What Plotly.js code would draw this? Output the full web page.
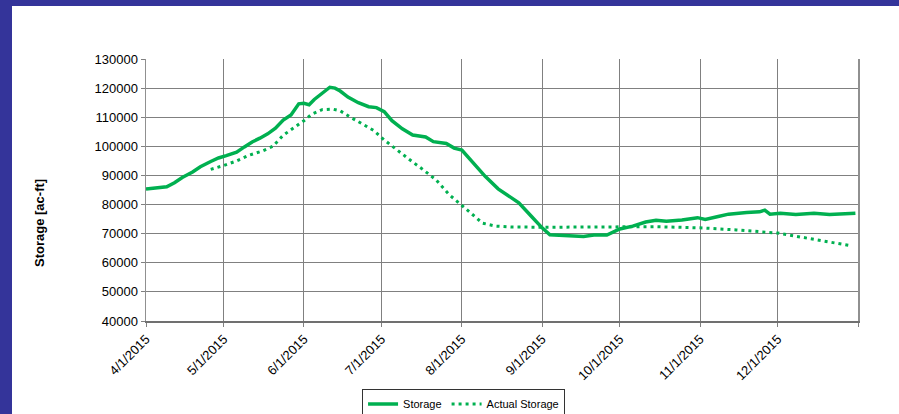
<!DOCTYPE html>
<html>
<head>
<meta charset="utf-8">
<script src="https://cdn.plot.ly/plotly-3.0.1.min.js"></script>
<style>
  html, body { margin: 0; padding: 0; background: #ffffff; }
  #frame { width: 887px; height: 408px; border-top: 6px solid #34349a; border-left: 12px solid #34349a; background: #fff; }
  #chart { width: 887px; height: 408px; }
</style>
</head>
<body>
<div id="frame"><div id="chart"></div></div>
<script>
// Storage (modelled) series
const storageDates = [
  '2015-04-01','2015-04-05','2015-04-09','2015-04-12','2015-04-15','2015-04-19','2015-04-22','2015-04-26','2015-04-29',
  '2015-05-02','2015-05-06','2015-05-09','2015-05-12','2015-05-15','2015-05-18','2015-05-21','2015-05-24','2015-05-27','2015-05-30',
  '2015-06-01','2015-06-03','2015-06-05','2015-06-08','2015-06-11','2015-06-13','2015-06-15','2015-06-18','2015-06-22','2015-06-26','2015-06-29',
  '2015-07-02','2015-07-05','2015-07-09','2015-07-13','2015-07-18','2015-07-21','2015-07-26','2015-07-29',
  '2015-08-01','2015-08-05','2015-08-10','2015-08-15','2015-08-19','2015-08-23','2015-08-28',
  '2015-09-01','2015-09-04','2015-09-11','2015-09-17','2015-09-21','2015-09-26',
  '2015-10-01','2015-10-06','2015-10-11','2015-10-15','2015-10-19','2015-10-25','2015-10-31',
  '2015-11-03','2015-11-08','2015-11-12','2015-11-19','2015-11-24','2015-11-26','2015-11-28',
  '2015-12-02','2015-12-08','2015-12-15','2015-12-21','2015-12-27','2015-12-31'
];
const storageValues = [
  85300,85700,86100,87500,89300,91200,93000,94800,96000,
  96800,98000,99800,101500,102800,104300,106200,109000,110800,114600,
  114800,114300,116100,118200,120300,120000,119000,116900,115000,113600,113300,
  111900,108800,106000,103900,103200,101600,101000,99400,
  98700,94500,89700,85400,82900,80600,75800,
  72000,69600,69300,69000,69500,69500,
  71600,72600,74000,74600,74300,74700,75500,
  74900,75900,76700,77300,77500,78100,76700,
  77000,76600,77000,76600,76800,77000
];

// Actual storage series
const actualDates = [
  '2015-04-26','2015-05-01','2015-05-06','2015-05-11','2015-05-16','2015-05-20','2015-05-24','2015-05-28',
  '2015-06-01','2015-06-04','2015-06-08','2015-06-12','2015-06-15','2015-06-19','2015-06-23','2015-06-28',
  '2015-07-02','2015-07-07','2015-07-12','2015-07-17','2015-07-22','2015-07-27',
  '2015-08-01','2015-08-05','2015-08-09','2015-08-14','2015-08-20',
  '2015-09-01','2015-10-01','2015-10-15','2015-11-01','2015-11-15',
  '2015-12-01','2015-12-10','2015-12-20','2015-12-29'
];
const actualValues = [
  92100,93400,95000,97000,98400,100000,103800,106200,
  108800,111000,112600,112800,112200,110000,108000,105400,
  102200,98600,95300,92000,88500,83500,
  79600,76800,73600,72600,72300,
  72200,72300,72400,72000,71300,
  70200,68800,67200,65900
];

// Axis tick labels
const xTickVals = ['2015-04-01','2015-05-01','2015-06-01','2015-07-01','2015-08-01','2015-09-01','2015-10-01','2015-11-01','2015-12-01','2016-01-01'];
const xTickText = ['4/1/2015','5/1/2015','6/1/2015','7/1/2015','8/1/2015','9/1/2015','10/1/2015','11/1/2015','12/1/2015',''];
const seriesNames = ['Storage','Actual Storage'];
const yTitle = 'Storage [ac-ft]';

const green = '#00b050';
const font = 'Liberation Sans, Arial, sans-serif';

const traces = [
  {
    x: storageDates, y: storageValues, name: seriesNames[0], type: 'scatter', mode: 'lines',
    line: { color: green, width: 3.5 }
  },
  {
    x: actualDates, y: actualValues, name: seriesNames[1], type: 'scatter', mode: 'lines',
    line: { color: green, width: 3, dash: '3px,4px' }
  }
];

const layout = {
  width: 887, height: 408,
  margin: { l: 134, r: 41, t: 53, b: 93, autoexpand: false },
  paper_bgcolor: '#ffffff', plot_bgcolor: '#ffffff',
  font: { family: font, size: 13, color: '#000' },
  showlegend: true,
  legend: {
    orientation: 'h', x: 0.446, xanchor: 'center', y: -0.258, yanchor: 'top',
    bordercolor: '#333', borderwidth: 1, font: { family: font, size: 11, color: '#000' },
    bgcolor: '#fff', entrywidthmode: 'pixels'
  },
  xaxis: {
    type: 'date', range: ['2015-04-01', '2016-01-01'], automargin: false,
    tickmode: 'array', tickvals: xTickVals, ticktext: xTickText, tickangle: -45,
    ticks: 'outside', ticklen: 4, tickcolor: '#808080',
    showgrid: true, gridcolor: '#808080', gridwidth: 1,
    showline: true, linecolor: '#707070', linewidth: 1.5, mirror: false,
    zeroline: false, tickfont: { family: font, size: 13, color: '#000' }
  },
  yaxis: {
    range: [40000, 130000], dtick: 10000, tick0: 40000, tickformat: 'd', automargin: false,
    ticks: 'outside', ticklen: 4, tickcolor: '#808080',
    showgrid: true, gridcolor: '#808080', gridwidth: 1,
    showline: true, linecolor: '#909090', linewidth: 1.5, mirror: true,
    zeroline: false, tickfont: { family: font, size: 13, color: '#000' }
  },
  annotations: [
    {
      text: '<b>' + yTitle + '</b>', xref: 'paper', yref: 'paper',
      x: (28 - 134) / 712, y: (315 - 217) / 262, xanchor: 'center', yanchor: 'middle',
      textangle: -90, showarrow: false, font: { family: font, size: 13, color: '#000' }
    }
  ]
};

Plotly.newPlot('chart', traces, layout, { displayModeBar: false, staticPlot: true });
</script>
</body>
</html>
